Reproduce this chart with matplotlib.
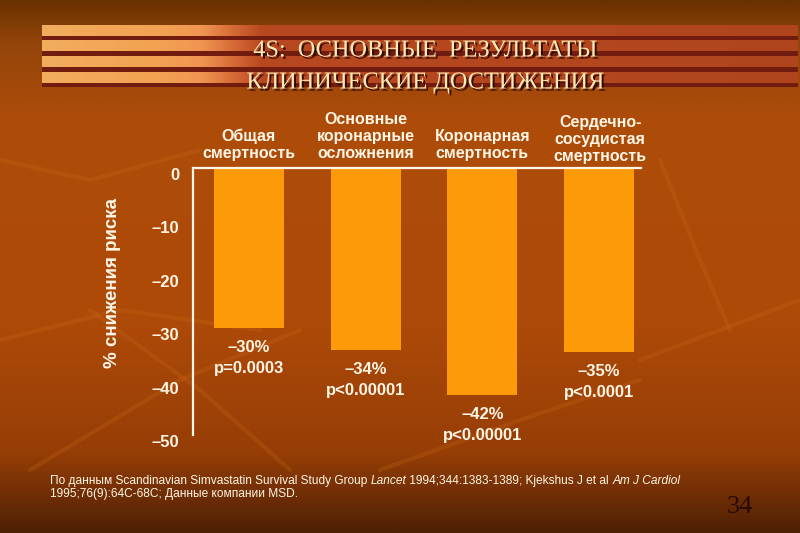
import numpy as np
import matplotlib
matplotlib.use('Agg')
from matplotlib import pyplot as plt
from matplotlib.colors import LinearSegmentedColormap
import matplotlib.transforms as mtrans
import matplotlib.patheffects as pe

categories = ['Общая\nсмертность', 'Основные\nкоронарные\nосложнения',
              'Коронарная\nсмертность', 'Сердечно-\nсосудистая\nсмертность']
reduction = [-30, -34, -42.5, -34.5]
value_labels = ['–30%\np=0.0003', '–34%\np<0.00001', '–42%\np<0.00001', '–35%\np<0.0001']
yticks = [0, -10, -20, -30, -40, -50]
ytick_labels = ['0', '–10', '–20', '–30', '–40', '–50']

W, H = 800, 533
fig = plt.figure(figsize=(8, 5.33), dpi=100)

# background (pixel coords)
bg = fig.add_axes([0, 0, 1, 1])
bg.set_xlim(0, W)
bg.set_ylim(H, 0)
bg.axis('off')
vcm = LinearSegmentedColormap.from_list('bgv', [(0, '#6a3200'), (0.08, '#94450a'), (0.22, '#ad4c0a'),
                                                (0.6, '#ae4a08'), (0.85, '#963e06'), (1, '#4e2004')])
grad = np.linspace(0, 1, 256).reshape(-1, 1)
bg.imshow(grad, cmap=vcm, aspect='auto', extent=(0, W, H, 0), zorder=0)

# faint leaf streaks
streaks = [[(0, 340), (120, 310), (260, 330)], [(30, 470), (180, 380), (300, 330)],
           [(90, 310), (200, 390), (290, 470)], [(660, 160), (700, 260), (730, 330)],
           [(640, 360), (720, 330), (800, 300)], [(380, 470), (520, 420), (640, 380)],
           [(0, 160), (90, 180), (200, 150)]]
for s in streaks:
    xs, ys = zip(*s)
    bg.plot(xs, ys, color='#d0701a', lw=3, alpha=0.22, zorder=1, solid_capstyle='round')

# title band stripes
scm = LinearSegmentedColormap.from_list('stripe', [(0, '#f3ad5e'), (0.15, '#f2a252'), (0.21, '#f09652'),
                                                   (0.25, '#d86c38'), (0.29, '#b8481f'), (1, '#b0451d')])
hgrad = np.linspace(0, 1, 512).reshape(1, -1)
band_top = 25
for k in range(4):
    y0 = band_top + k * 15.6
    bg.imshow(hgrad, cmap=scm, aspect='auto', extent=(42, 798, y0 + 10.8, y0), zorder=2)
    bg.fill_between([42, 798], y0 + 10.8, y0 + 15.6, color='#721c10', zorder=2, lw=0)

title_fx = [pe.withSimplePatchShadow(offset=(1.5, -1.5), shadow_rgbFace='#2a0800', alpha=0.9)]
bg.text(425, 51, '4S:  ОСНОВНЫЕ  РЕЗУЛЬТАТЫ', fontsize=17.5, family='Liberation Serif',
        color='#fbeab8', ha='center', va='center', zorder=3, path_effects=title_fx)
bg.text(425, 83, 'КЛИНИЧЕСКИЕ ДОСТИЖЕНИЯ', fontsize=17.5, family='Liberation Serif',
        color='#fbeab8', ha='center', va='center', zorder=3, path_effects=title_fx)

# chart
ax = fig.add_axes([193 / W, 1 - 435 / H, (641 - 193) / W, (435 - 168) / H])
ax.patch.set_alpha(0)
x = np.arange(len(categories))
ax.bar(x, reduction, width=0.6, color='#fd9a08', zorder=2)
ax.set_xlim(-0.48, 3.36)
ax.set_ylim(-50, 0)
for side in ['right', 'bottom']:
    ax.spines[side].set_visible(False)
for side in ['left', 'top']:
    ax.spines[side].set_color('#fff6e6')
    ax.spines[side].set_linewidth(1.6)
    ax.spines[side].set_zorder(3)
ax.set_xticks([])
ax.set_yticks(yticks)
ax.set_yticklabels(ytick_labels, fontsize=12, fontweight='bold', color='#fff6e6',
                   family='Liberation Sans')
for lab in ax.get_yticklabels():
    lab.set_va('top')
ax.tick_params(axis='y', length=0, pad=10)

cat_tr = mtrans.blended_transform_factory(ax.transData, fig.transFigure)
for i, c in enumerate(categories):
    ypix = 161 + (3 if i == 3 else 0)
    ax.text(x[i] + (0.01 if i == 3 else 0), 1 - ypix / H, c, transform=cat_tr,
            ha='center', va='bottom', fontsize=11.5, fontweight='bold', color='#fff6e6',
            family='Liberation Sans', linespacing=1.15)

for i, (v, lab) in enumerate(zip(reduction, value_labels)):
    ax.annotate(lab, xy=(x[i], v), xytext=(0, -12), textcoords='offset pixels',
                ha='center', va='top', fontsize=12, fontweight='bold', color='#fff6e6',
                family='Liberation Sans', linespacing=1.5)

fig.text(113 / W, 1 - 283 / H, '% снижения риска', rotation=90, ha='center', va='center',
         fontsize=13.5, fontweight='bold', color='#fff6e6', family='Liberation Sans')

# footnote with italic parts
renderer = fig.canvas.get_renderer()
line1 = [('По данным Scandinavian Simvastatin Survival Study Group ', 'normal'), ('Lancet', 'italic'),
         (' 1994;344:1383-1389; Kjekshus J et al ', 'normal'), ('Am J Cardiol', 'italic')]
line2 = [('1995;76(9):64C-68C; Данные компании MSD.', 'normal')]
for line, ypix in [(line1, 481), (line2, 494)]:
    xp = 50
    for txt, style in line:
        t = fig.text(xp / W, 1 - ypix / H, txt, fontsize=8.6, style=style, color='#fff6e6',
                     family='Liberation Sans', ha='left', va='center')
        xp += t.get_window_extent(renderer).width

fig.text(740 / W, 1 - 507 / H, '34', fontsize=19, family='Liberation Serif', color='#2a0a02',
         ha='center', va='center')

fig.savefig('out.png', dpi=100)
